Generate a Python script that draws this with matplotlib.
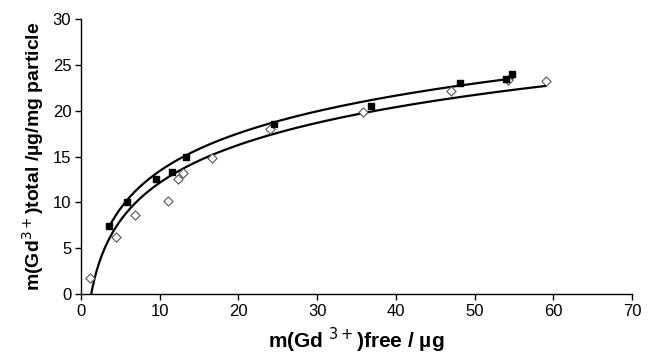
import numpy as np
import matplotlib
matplotlib.use("Agg")
import matplotlib.pyplot as plt

plt.rcParams['font.family'] = ['Liberation Sans', 'DejaVu Sans']

# filled squares
sq_x = [3.5, 5.8, 9.5, 11.5, 13.3, 24.5, 36.8, 48.2, 54.0, 54.8]
sq_y = [7.4, 10.0, 12.6, 13.3, 15.0, 18.6, 20.5, 23.0, 23.5, 24.0]
# open diamonds
di_x = [1.2, 4.5, 6.8, 11.0, 12.3, 12.9, 16.6, 24.0, 35.8, 47.0, 54.2, 59.0]
di_y = [1.7, 6.2, 8.6, 10.2, 12.5, 13.2, 14.8, 18.0, 19.9, 22.2, 23.4, 23.2]

# logarithmic trend line coefficients (y = a ln x + b)
sq_fit = (5.93, -0.23)
di_fit = (5.95, -1.56)

fig = plt.figure(figsize=(6.49, 3.59), dpi=100)
ax = fig.add_axes([0.1248, 0.181, 0.8492, 0.766])

def trend(fit, x0, x1):
    xs = np.linspace(x0, x1, 300)
    return xs, fit[0] * np.log(xs) + fit[1]

xs, ys = trend(sq_fit, min(sq_x), max(sq_x))
ax.plot(xs, ys, color='black', lw=1.6, zorder=2)
x0 = np.exp(-di_fit[1] / di_fit[0])
xs, ys = trend(di_fit, x0, max(di_x))
ax.plot(xs, ys, color='black', lw=1.6, zorder=2)

ax.scatter(di_x, di_y, marker='D', s=22, facecolor='white', edgecolor='#555555', linewidth=0.8, zorder=3)
ax.scatter(sq_x, sq_y, marker='s', s=22, facecolor='black', edgecolor='black', zorder=4)

ax.set_xlim(0, 70)
ax.set_ylim(0, 30)
ax.set_xticks(range(0, 71, 10))
ax.set_yticks(range(0, 31, 5))
for s in ['top', 'right']:
    ax.spines[s].set_visible(False)
for s in ['left', 'bottom']:
    ax.spines[s].set_linewidth(1.0)
ax.tick_params(direction='out', length=4, width=1, labelsize=12, pad=3)

ax.set_xlabel('m(Gd $^{3+}$)free / µg', fontsize=15, fontweight='bold', labelpad=5)
ax.set_ylabel('m(Gd$^{3+}$)total /µg/mg particle', fontsize=14, fontweight='bold', labelpad=5)

fig.savefig('out.png', dpi=100)
